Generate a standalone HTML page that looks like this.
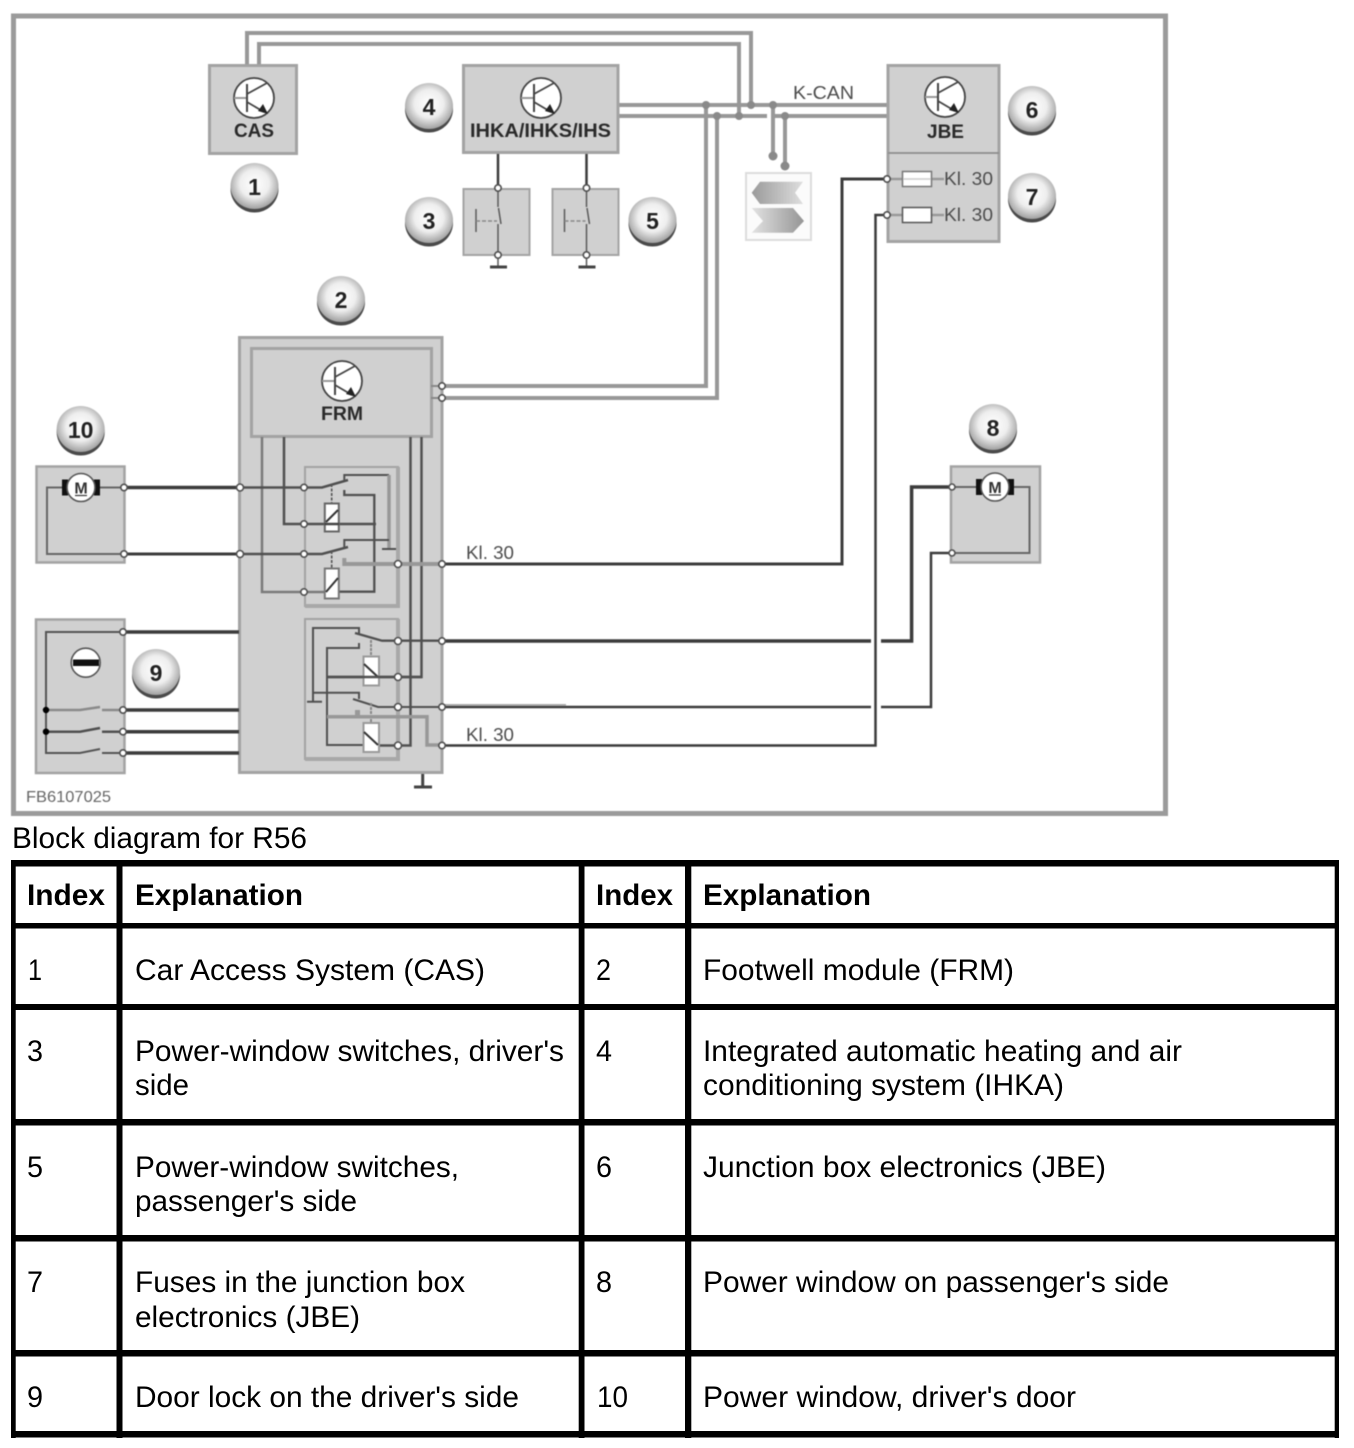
<!DOCTYPE html>
<html><head><meta charset="utf-8"><title>Block diagram for R56</title>
<style>
html,body{margin:0;padding:0;background:#fff;overflow:hidden}
svg{display:block}
.b{fill:#d0d0d0;stroke:#a3a3a3;stroke-width:3}
.d,.g,.t,.m,.h{fill:none;stroke-linejoin:miter}
.d{stroke:#3c3c3c;stroke-width:3.5}
.m{stroke:#505050;stroke-width:2.5}
.t{stroke:#5a5a5a;stroke-width:2}
.g{stroke:#989898;stroke-width:4}
.h{stroke:#a8a8a8;stroke-width:4}
.o{fill:#fff;stroke:#505050;stroke-width:1.6}
.p{fill:#8a8a8a}
.c{fill:#fff;stroke:#8a8a8a;stroke-width:3}
.lab{font-family:"Liberation Sans",sans-serif;font-size:19px;fill:#2a2a2a;font-weight:bold}
.kl{font-family:"Liberation Sans",sans-serif;font-size:18px;fill:#4d4d4d}
.n{font-family:"Liberation Sans",sans-serif;font-size:23px;fill:#222;font-weight:bold;text-anchor:middle}
.tx{font-family:"Liberation Sans",sans-serif;font-size:30px;fill:#000}
.hd{font-weight:bold}
</style></head><body>
<svg xmlns="http://www.w3.org/2000/svg" width="1354" height="1448" viewBox="0 0 1354 1448">
<defs>
<radialGradient id="bg" cx="50%" cy="45%" r="55%"><stop offset="0" stop-color="#fff"/><stop offset=".55" stop-color="#eee"/><stop offset="1" stop-color="#a0a0a0"/></radialGradient>
<linearGradient id="c1" x1="0" x2="1" y1="0" y2="0"><stop offset="0" stop-color="#9a9a9a"/><stop offset="1" stop-color="#dedede"/></linearGradient>
<linearGradient id="c2" x1="0" x2="1" y1="0" y2="0"><stop offset="0" stop-color="#e2e2e2"/><stop offset="1" stop-color="#959595"/></linearGradient>
<g id="tr">
<circle r="20" fill="#fff" stroke="#444" stroke-width="1.8"/>
<path d="M-20 0H-7" stroke="#999" stroke-width="2" fill="none"/>
<path d="M-7 -14V14" stroke="#444" stroke-width="2" fill="none"/>
<path d="M-7 -4L13 -15M-7 4L10 14" stroke="#444" stroke-width="1.8" fill="none"/>
<path d="M14 16L4 13L9 6Z" fill="#222"/>
</g>
<g id="mot">
<path d="M-19 -8H-13V8H-19ZM13 -8H19V8H13Z" fill="#111"/>
<circle r="14" fill="#fff" stroke="#555" stroke-width="1.6"/>
<text y="6" text-anchor="middle" font-family="Liberation Sans, sans-serif" font-size="16" font-weight="bold" fill="#333">M</text>
<path d="M-6 8H6" stroke="#333" stroke-width="1.2"/>
</g>
<g id="bd">
<ellipse cx="0" cy="2" rx="24" ry="23.500" fill="#4a4a4a"/>
<ellipse cx="0" cy="-1" rx="24" ry="23" fill="url(#bg)"/>
</g>
</defs>

<g style="filter:blur(.6px)">
<rect x="13.500" y="16" width="1152" height="797.500" fill="#fff" stroke="#9b9b9b" stroke-width="5"/>

<!-- bus -->
<path class="g" d="M247 64V33H751V105"/>
<path class="g" d="M259 64V44H739V116"/>
<path class="g" d="M619 105H887"/>
<path class="g" d="M619 116H767M771 116H887"/>
<path class="g" d="M706 105V386H442"/>
<path class="g" d="M717 116V398H442"/>
<path class="g" d="M773 105V156"/>
<path class="g" d="M785 116V166"/>
<g class="p"><circle cx="706" cy="105" r="4"/><circle cx="717" cy="116" r="4"/><circle cx="739" cy="116" r="4"/><circle cx="751" cy="105" r="4"/><circle cx="773" cy="105" r="4"/><circle cx="785" cy="116" r="4"/><circle cx="773" cy="156" r="4.500"/><circle cx="785" cy="166" r="4.500"/></g>

<!-- CAS -->
<rect class="b" x="209.500" y="65.500" width="87" height="88"/>
<use href="#tr" x="254" y="98"/>
<text class="lab" x="234" y="137" textLength="40" lengthAdjust="spacingAndGlyphs">CAS</text>

<!-- IHKA -->
<rect class="b" x="463.500" y="65.500" width="154.500" height="87"/>
<use href="#tr" x="541" y="98"/>
<text class="lab" x="470" y="137" textLength="141" lengthAdjust="spacingAndGlyphs">IHKA/IHKS/IHS</text>
<path class="d" d="M498 154V188M586.500 154V188" style="stroke-width:2.500"/>

<!-- switches -->
<rect class="b" x="463.500" y="189" width="66" height="66" style="stroke-width:2"/>
<rect class="b" x="552.500" y="189" width="66" height="66" style="stroke-width:2"/>
<g>
<path class="t" d="M498 188V207M498.500 208L501 224M498 224V267" style="stroke-width:1.500"/>
<path class="t" d="M476 209V232" style="stroke-width:1.500"/>
<path d="M476 221H497" stroke="#888" stroke-width="1.600" stroke-dasharray="4 2" fill="none"/>
<path d="M490 267H507" stroke="#444" stroke-width="3"/>
<circle class="o" cx="498" cy="188" r="3.200"/><circle class="o" cx="498" cy="255" r="3.200"/>
</g>
<g transform="translate(88.500 0)">
<path class="t" d="M498 188V207M498.500 208L501 224M498 224V267" style="stroke-width:1.500"/>
<path class="t" d="M476 209V232" style="stroke-width:1.500"/>
<path d="M476 221H497" stroke="#888" stroke-width="1.600" stroke-dasharray="4 2" fill="none"/>
<path d="M490 267H507" stroke="#444" stroke-width="3"/>
<circle class="o" cx="498" cy="188" r="3.200"/><circle class="o" cx="498" cy="255" r="3.200"/>
</g>

<!-- gateway -->
<rect x="746" y="173" width="65" height="67" fill="#fbfbfb" stroke="#dcdcdc" stroke-width="2"/>
<path d="M751.700 192.700L760 181.700H803L795 192.700L803 204H760Z" fill="url(#c1)"/>
<path d="M751.700 208H793L804 221L793 232.700H751.700L763 221Z" fill="url(#c2)"/>

<!-- JBE -->
<rect class="b" x="888" y="65.500" width="111" height="176"/>
<path d="M888 153H999" stroke="#8c8c8c" stroke-width="1.800"/>
<use href="#tr" x="945" y="97"/>
<text class="lab" x="927" y="138" textLength="37" lengthAdjust="spacingAndGlyphs">JBE</text>
<text class="kl" x="793" y="99" textLength="61" lengthAdjust="spacingAndGlyphs">K-CAN</text>
<path d="M887 179H944M887 215H944" stroke="#9a9a9a" stroke-width="2.500" fill="none"/>
<rect x="902.500" y="171.500" width="29" height="15" fill="#fff" stroke="#777" stroke-width="1.500"/>
<rect x="902.500" y="207.500" width="29" height="15" fill="#fff" stroke="#555" stroke-width="1.500"/>
<path d="M903 179H931" stroke="#ccc" stroke-width="1.500"/>
<text class="kl" x="944" y="185" textLength="49" lengthAdjust="spacingAndGlyphs">Kl. 30</text>
<text class="kl" x="944" y="221" textLength="49" lengthAdjust="spacingAndGlyphs">Kl. 30</text>

<!-- FRM -->
<rect class="b" x="239.500" y="337.500" width="202.500" height="435"/>
<rect class="b" x="251.500" y="348.500" width="180" height="88"/>
<use href="#tr" x="342" y="381"/>
<text class="lab" x="321" y="420" textLength="42" lengthAdjust="spacingAndGlyphs">FRM</text>

<!-- relay boxes -->
<rect x="305" y="467" width="93" height="139" fill="#d0d0d0" stroke="#a3a3a3" stroke-width="2"/>
<path d="M398 467V606H305" fill="none" stroke="#a8a8a8" stroke-width="4"/>
<rect x="305" y="619" width="93" height="140" fill="#d0d0d0" stroke="#a3a3a3" stroke-width="2"/>
<path d="M398 619V759H305" fill="none" stroke="#a8a8a8" stroke-width="4"/>

<!-- FRM bus stubs -->
<path d="M431 386H442M431 398H442" stroke="#888" stroke-width="2"/>
<circle class="o" cx="442" cy="386" r="3.200"/><circle class="o" cx="442" cy="398" r="3.200"/>

<!-- FRM internal wires -->
<path class="m" d="M262 437V592H325" style="stroke:#7a7a7a"/>
<path class="m" d="M284 437V524H376"/>
<path class="m" d="M410.500 437V745.500H379"/>
<path class="m" d="M421.500 437V677H327"/>

<!-- Motor 10 -->
<rect class="b" x="36.500" y="466.500" width="88" height="96" style="stroke-width:2.500"/>
<path class="t" d="M124 487.500H47V554H124" style="stroke:#666"/>
<use href="#mot" x="81" y="487.500"/>
<path class="d" d="M124 487.500H240"/>
<path class="d" d="M124 554H240" style="stroke-width:3"/>
<path class="m" d="M240 487.500H304H322L348 480"/>
<path class="m" d="M240 554H304H322L348 547"/>
<circle class="o" cx="124" cy="487.500" r="3.200"/><circle class="o" cx="124" cy="554" r="3.200"/>
<circle class="o" cx="240" cy="487.500" r="3.500"/><circle class="o" cx="240" cy="554" r="3.500"/>

<!-- upper relay -->
<path class="m" d="M344.300 480V475H389" style="stroke-width:2"/>
<path class="g" d="M389 475V549" style="stroke-width:3.500"/>
<path class="m" d="M344.300 490V495H374.300V591.700H339" style="stroke-width:2.300"/>
<path d="M331.700 484V503M331.700 551V568" stroke="#555" stroke-width="1.600" stroke-dasharray="3 1.500"/>
<rect x="324.800" y="503.500" width="14" height="28" fill="#fff" stroke="#666" stroke-width="2"/>
<rect x="324.800" y="568.500" width="14" height="30" fill="#fff" stroke="#777" stroke-width="2"/>
<path d="M324.500 524H339" stroke="#444" stroke-width="2.500"/>
<path d="M326 522L338 510M326 592L338 578" stroke="#333" stroke-width="2"/>
<path class="m" d="M344.300 547V540H389" style="stroke-width:2"/>
<path class="m" d="M382 549H396" style="stroke-width:2"/>
<path class="g" d="M344.300 558V564H442"/>
<circle class="o" cx="304" cy="487.500" r="3.200"/><circle class="o" cx="304" cy="524" r="3.200"/><circle class="o" cx="304" cy="554" r="3.200"/><circle class="o" cx="304" cy="592" r="3.200"/>
<circle class="o" cx="398" cy="564" r="3.500"/>
<path class="d" d="M442 564H842V179H887" style="stroke-width:3"/>
<circle class="o" cx="442" cy="564" r="3.200"/>
<circle class="o" cx="887" cy="179" r="3.200"/>

<!-- lower relay -->
<path class="m" d="M322 701.700H307M313 701.700V628H359V634" style="stroke-width:2"/>
<path class="m" d="M313 692.700H359V699" style="stroke-width:2"/>
<path class="m" d="M359 643V648H327V745H364" style="stroke-width:2"/>
<path class="m" d="M355 633L382 640.700H442" style="stroke-width:2.300"/>
<path class="m" d="M353 699L378 707H442" style="stroke-width:2"/>
<path d="M371 640V656M371 703V722" stroke="#888" stroke-width="2" stroke-dasharray="3 1"/>
<rect x="363.500" y="656.500" width="15.500" height="29" fill="#fff" stroke="#9a9a9a" stroke-width="2"/>
<rect x="363.500" y="723" width="15.500" height="29" fill="#fff" stroke="#9a9a9a" stroke-width="2"/>
<path d="M364 664L378 677M364 732L378 745" stroke="#333" stroke-width="2"/>
<path class="m" d="M327 677H422"/>
<path class="g" d="M327 716.700H427V745H442" style="stroke-width:3.500"/>
<rect x="355" y="710" width="5" height="6" fill="#999"/>
<circle class="o" cx="398" cy="641" r="3.500"/><circle class="o" cx="398" cy="677" r="3.500"/><circle class="o" cx="398" cy="707" r="3.500"/><circle class="o" cx="398" cy="745.500" r="3.500"/>
<path d="M422.700 774V787M414 787H432" stroke="#444" stroke-width="3" fill="none"/>

<!-- right wires -->
<path class="d" d="M442 641H871M881 641H911.600V487H952"/>
<path class="d" d="M442 707H871M881 707H931V553H952" style="stroke-width:2.500"/>
<path d="M442 705H566" stroke="#aaa" stroke-width="2"/>
<path class="d" d="M442 745.500H875.500V215H887" style="stroke-width:2.500"/>
<circle class="o" cx="442" cy="641" r="3.200"/><circle class="o" cx="442" cy="707" r="3.200"/><circle class="o" cx="442" cy="745.500" r="3.200"/><circle class="o" cx="887" cy="215" r="3.200"/>
<text class="kl" x="466" y="559" textLength="48" lengthAdjust="spacingAndGlyphs">Kl. 30</text>
<text class="kl" x="466" y="741" textLength="48" lengthAdjust="spacingAndGlyphs">Kl. 30</text>

<!-- Motor 8 -->
<rect class="b" x="951" y="466.500" width="89" height="96" style="stroke-width:2.500"/>
<path class="t" d="M952 487H1029.500V553H952" style="stroke:#666"/>
<use href="#mot" x="995" y="487"/>
<circle class="o" cx="952" cy="487" r="3"/><circle class="o" cx="952" cy="553" r="3"/>

<!-- Door lock 9 -->
<rect class="b" x="36" y="619.500" width="88.500" height="153.500" style="stroke-width:2.500"/>
<path class="t" d="M123 632H46V753H80L100 749M102 753H123" style="stroke:#555"/>
<path class="m" d="M46 710H80L100 707M102 710H123" style="stroke:#8a8a8a;stroke-width:2.500"/>
<path class="m" d="M46 731.700H80L100 728M102 731.700H123"/>
<circle cx="46" cy="710" r="3.200" fill="#000"/><circle cx="46" cy="731.700" r="3.200" fill="#000"/>
<circle cx="85.700" cy="662.700" r="14.500" fill="#fff" stroke="#555" stroke-width="1.600"/>
<rect x="73" y="659.500" width="26" height="6.500" fill="#111"/>
<path class="d" d="M123 632H239M123 710H239M123 731.700H239M123 753H239" />
<circle class="o" cx="123" cy="632" r="3.200"/><circle class="o" cx="123" cy="710" r="3.200"/><circle class="o" cx="123" cy="731.700" r="3.200"/><circle class="o" cx="123" cy="753" r="3.200"/>

<text x="26" y="802" font-family="Liberation Sans, sans-serif" font-size="16" fill="#666" textLength="85" lengthAdjust="spacingAndGlyphs">FB6107025</text>

<!-- badges -->
<use href="#bd" x="254.500" y="187"/><text class="n" x="254.500" y="195">1</text>
<use href="#bd" x="341" y="300"/><text class="n" x="341" y="308">2</text>
<use href="#bd" x="429" y="221"/><text class="n" x="429" y="229">3</text>
<use href="#bd" x="429" y="107"/><text class="n" x="429" y="115">4</text>
<use href="#bd" x="652.500" y="221"/><text class="n" x="652.500" y="229">5</text>
<use href="#bd" x="1032" y="110"/><text class="n" x="1032" y="118">6</text>
<use href="#bd" x="1032" y="197"/><text class="n" x="1032" y="205">7</text>
<use href="#bd" x="993" y="428"/><text class="n" x="993" y="436">8</text>
<use href="#bd" x="156" y="673"/><text class="n" x="156" y="681">9</text>
<use href="#bd" x="80.700" y="430"/><text class="n" x="80.700" y="438">10</text>
</g>

<!-- caption -->
<text class="tx" x="12" y="848" textLength="295" lengthAdjust="spacingAndGlyphs">Block diagram for R56</text>

<!-- table -->
<g fill="#000">
<rect x="11" y="860" width="1328" height="6.500"/>
<rect x="11" y="923" width="1328" height="5.500"/>
<rect x="11" y="1004" width="1328" height="6"/>
<rect x="11" y="1119" width="1328" height="6.500"/>
<rect x="11" y="1235" width="1328" height="6.500"/>
<rect x="11" y="1350" width="1328" height="6.500"/>
<rect x="11" y="1431" width="1328" height="6.500"/>
<rect x="11" y="860" width="4.700" height="578"/>
<rect x="116.500" y="860" width="6" height="578"/>
<rect x="578.700" y="860" width="5.800" height="578"/>
<rect x="685" y="860" width="6.300" height="578"/>
<rect x="1334.700" y="860" width="4.300" height="578"/>
</g>
<g class="tx">
<text class="tx hd" x="27" y="905" textLength="78" lengthAdjust="spacingAndGlyphs">Index</text>
<text class="tx hd" x="135" y="905" textLength="168" lengthAdjust="spacingAndGlyphs">Explanation</text>
<text class="tx hd" x="596" y="905" textLength="77" lengthAdjust="spacingAndGlyphs">Index</text>
<text class="tx hd" x="703" y="905" textLength="168" lengthAdjust="spacingAndGlyphs">Explanation</text>
<text class="tx" x="28" y="980" textLength="14" lengthAdjust="spacingAndGlyphs">1</text>
<text class="tx" x="135" y="980" textLength="350" lengthAdjust="spacingAndGlyphs">Car Access System (CAS)</text>
<text class="tx" x="596" y="980" textLength="15" lengthAdjust="spacingAndGlyphs">2</text>
<text class="tx" x="703" y="980" textLength="311" lengthAdjust="spacingAndGlyphs">Footwell module (FRM)</text>
<text class="tx" x="27" y="1061" textLength="16" lengthAdjust="spacingAndGlyphs">3</text>
<text class="tx" x="135" y="1061" textLength="429" lengthAdjust="spacingAndGlyphs">Power-window switches, driver's</text>
<text class="tx" x="135" y="1095" textLength="54" lengthAdjust="spacingAndGlyphs">side</text>
<text class="tx" x="596" y="1061" textLength="16" lengthAdjust="spacingAndGlyphs">4</text>
<text class="tx" x="703" y="1061" textLength="479" lengthAdjust="spacingAndGlyphs">Integrated automatic heating and air</text>
<text class="tx" x="703" y="1095" textLength="361" lengthAdjust="spacingAndGlyphs">conditioning system (IHKA)</text>
<text class="tx" x="27" y="1177" textLength="16" lengthAdjust="spacingAndGlyphs">5</text>
<text class="tx" x="135" y="1177" textLength="324" lengthAdjust="spacingAndGlyphs">Power-window switches,</text>
<text class="tx" x="135" y="1211" textLength="222" lengthAdjust="spacingAndGlyphs">passenger's side</text>
<text class="tx" x="596" y="1177" textLength="16" lengthAdjust="spacingAndGlyphs">6</text>
<text class="tx" x="703" y="1177" textLength="403" lengthAdjust="spacingAndGlyphs">Junction box electronics (JBE)</text>
<text class="tx" x="27" y="1292" textLength="16" lengthAdjust="spacingAndGlyphs">7</text>
<text class="tx" x="135" y="1292" textLength="330" lengthAdjust="spacingAndGlyphs">Fuses in the junction box</text>
<text class="tx" x="135" y="1327" textLength="225" lengthAdjust="spacingAndGlyphs">electronics (JBE)</text>
<text class="tx" x="596" y="1292" textLength="16" lengthAdjust="spacingAndGlyphs">8</text>
<text class="tx" x="703" y="1292" textLength="466" lengthAdjust="spacingAndGlyphs">Power window on passenger's side</text>
<text class="tx" x="27" y="1407" textLength="16" lengthAdjust="spacingAndGlyphs">9</text>
<text class="tx" x="135" y="1407" textLength="384" lengthAdjust="spacingAndGlyphs">Door lock on the driver's side</text>
<text class="tx" x="597" y="1407" textLength="31" lengthAdjust="spacingAndGlyphs">10</text>
<text class="tx" x="703" y="1407" textLength="373" lengthAdjust="spacingAndGlyphs">Power window, driver's door</text>
</g>
</svg>
</body></html>
